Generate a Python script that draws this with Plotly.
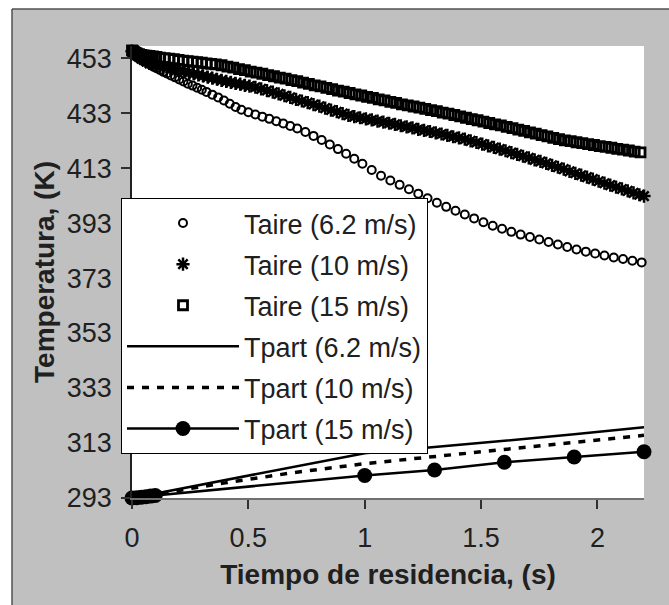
import plotly.graph_objects as go

# ---- Data ----
# Taire (6.2 m/s)  - open circles
t_aire_62 = [0.000, 0.004, 0.008, 0.012, 0.017, 0.022, 0.028, 0.035, 0.042, 0.050,
             0.060, 0.070, 0.080, 0.092, 0.105, 0.120, 0.135, 0.150, 0.167, 0.185,
             0.203, 0.221, 0.240, 0.260, 0.280, 0.300, 0.320, 0.345, 0.370, 0.395,
             0.420, 0.445, 0.470, 0.500, 0.530, 0.560, 0.590, 0.620, 0.650, 0.680,
             0.710, 0.745, 0.780, 0.815, 0.850, 0.885, 0.920, 0.955, 0.990, 1.030,
             1.070, 1.110, 1.150, 1.190, 1.230, 1.270, 1.310, 1.350, 1.390, 1.430,
             1.470, 1.510, 1.550, 1.590, 1.630, 1.670, 1.710, 1.750, 1.790, 1.830,
             1.870, 1.910, 1.950, 1.990, 2.030, 2.070, 2.110, 2.150, 2.190]
T_aire_62 = [455.5, 455.2, 454.9, 454.6, 454.3, 454.0, 453.6, 453.2, 452.8, 452.4,
             451.8, 451.2, 450.6, 449.9, 449.3, 448.7, 448.0, 447.4, 446.7, 446.0,
             445.2, 444.5, 443.7, 443.0, 442.2, 441.5, 440.7, 439.7, 438.7, 437.6,
             436.4, 435.2, 434.2, 433.3, 432.5, 431.7, 430.9, 430.0, 429.2, 428.3,
             427.4, 426.1, 424.7, 423.2, 421.6, 419.9, 418.2, 416.4, 414.6, 412.3,
             410.2, 408.5, 406.9, 405.3, 403.7, 402.0, 400.4, 398.9, 397.5, 396.1,
             394.7, 393.3, 392.0, 390.9, 389.8, 388.8, 387.9, 387.0, 386.1, 385.2,
             384.3, 383.4, 382.6, 381.9, 381.2, 380.5, 379.9, 379.3, 378.7]

# Taire (10 m/s) - asterisks
t_aire_10 = [0.000, 0.005, 0.010, 0.016, 0.022, 0.030, 0.040, 0.050, 0.062, 0.075,
             0.090, 0.105, 0.120, 0.135, 0.150, 0.165, 0.185, 0.205, 0.225, 0.245,
             0.265, 0.285, 0.305, 0.325, 0.345, 0.365, 0.385, 0.405, 0.425, 0.445,
             0.465, 0.485, 0.505, 0.530, 0.555, 0.580, 0.605, 0.630, 0.655, 0.680,
             0.705, 0.730, 0.755, 0.780, 0.805, 0.830, 0.855, 0.880, 0.905, 0.930,
             0.955, 0.980, 1.005, 1.030, 1.055, 1.080, 1.105, 1.130, 1.155, 1.180,
             1.205, 1.230, 1.255, 1.280, 1.305, 1.330, 1.355, 1.380, 1.405, 1.430,
             1.455, 1.480, 1.505, 1.530, 1.555, 1.580, 1.605, 1.630, 1.655, 1.680,
             1.705, 1.730, 1.755, 1.780, 1.805, 1.830, 1.855, 1.880, 1.905, 1.930,
             1.955, 1.980, 2.005, 2.030, 2.055, 2.080, 2.105, 2.130, 2.155, 2.180,
             2.200]
T_aire_10 = [455.5, 455.1, 454.7, 454.3, 453.9, 453.4, 452.8, 452.3, 451.7, 451.1,
             450.6, 450.2, 449.9, 449.6, 449.4, 449.2, 448.8, 448.5, 448.1, 447.7,
             447.3, 446.9, 446.5, 446.1, 445.7, 445.3, 444.9, 444.5, 444.2, 443.8,
             443.5, 443.1, 442.8, 442.4, 441.8, 441.2, 440.6, 440.0, 439.3, 438.7,
             438.0, 437.4, 436.8, 436.1, 435.5, 434.8, 434.1, 433.5, 432.8, 432.2,
             431.7, 431.3, 430.9, 430.5, 430.1, 429.7, 429.3, 428.9, 428.4, 428.0,
             427.6, 427.1, 426.7, 426.3, 425.8, 425.4, 424.9, 424.4, 424.0, 423.5,
             422.9, 422.3, 421.7, 421.1, 420.5, 419.9, 419.3, 418.6, 418.0, 417.3,
             416.7, 416.0, 415.4, 414.7, 414.0, 413.3, 412.6, 411.8, 411.1, 410.4,
             409.7, 409.0, 408.2, 407.5, 406.8, 406.1, 405.4, 404.7, 404.0, 403.3,
             402.8]

# Taire (15 m/s) - open squares
t_aire_15 = [0.000, 0.005, 0.010, 0.016, 0.022, 0.030, 0.040, 0.050, 0.062, 0.075,
             0.090, 0.105, 0.120, 0.140, 0.160, 0.180, 0.200, 0.220, 0.240, 0.260,
             0.280, 0.300, 0.320, 0.340, 0.360, 0.385, 0.410, 0.435, 0.460, 0.485,
             0.510, 0.535, 0.560, 0.585, 0.610, 0.635, 0.660, 0.685, 0.710, 0.735,
             0.760, 0.785, 0.810, 0.835, 0.860, 0.885, 0.910, 0.935, 0.960, 0.985,
             1.010, 1.035, 1.060, 1.085, 1.110, 1.135, 1.160, 1.185, 1.210, 1.235,
             1.260, 1.285, 1.310, 1.335, 1.360, 1.385, 1.410, 1.435, 1.460, 1.485,
             1.510, 1.535, 1.560, 1.585, 1.610, 1.635, 1.660, 1.685, 1.710, 1.735,
             1.760, 1.785, 1.810, 1.835, 1.860, 1.885, 1.910, 1.935, 1.960, 1.985,
             2.010, 2.035, 2.060, 2.085, 2.110, 2.135, 2.160, 2.185]
T_aire_15 = [455.8, 455.5, 455.2, 454.9, 454.6, 454.4, 454.2, 454.0, 453.9, 453.8,
             453.6, 453.4, 453.2, 453.0, 452.8, 452.6, 452.3, 452.1, 451.9, 451.7,
             451.5, 451.3, 451.1, 450.9, 450.7, 450.4, 449.9, 449.5, 449.0, 448.6,
             448.1, 447.7, 447.3, 446.8, 446.4, 445.9, 445.5, 445.0, 444.6, 444.1,
             443.6, 443.1, 442.7, 442.2, 441.7, 441.2, 440.8, 440.3, 439.8, 439.4,
             438.9, 438.5, 438.0, 437.6, 437.1, 436.7, 436.2, 435.8, 435.4, 435.0,
             434.5, 434.1, 433.7, 433.2, 432.8, 432.3, 431.8, 431.3, 430.8, 430.4,
             429.9, 429.4, 428.9, 428.5, 428.0, 427.5, 427.0, 426.5, 426.0, 425.5,
             425.0, 424.5, 424.0, 423.5, 423.1, 422.8, 422.4, 422.1, 421.7, 421.4,
             421.0, 420.7, 420.4, 420.0, 419.7, 419.4, 419.0, 418.7]

# Tpart curves
t_part_62 = [0.0, 0.02, 0.04, 0.06, 0.08, 1.0, 1.3, 1.6, 1.9, 2.2]
T_part_62 = [293.0, 293.3, 293.6, 294.0, 294.3, 309.3, 311.5, 313.8, 316.2, 318.7]

t_part_10 = [0.0, 0.02, 0.04, 0.06, 0.08, 0.4, 0.7, 1.0, 1.3, 1.6, 1.9, 2.2]
T_part_10 = [293.0, 293.2, 293.5, 293.8, 294.1, 298.5, 302.3, 305.5, 308.0, 310.5, 313.3, 315.8]

t_part_15 = [0.0, 0.02, 0.04, 0.06, 0.08, 0.1, 1.0, 1.3, 1.6, 1.9, 2.2]
T_part_15 = [293.0, 293.1, 293.3, 293.5, 293.7, 293.9, 301.2, 303.2, 306.0, 307.9, 309.8]

x_ticks = [0, 0.5, 1, 1.5, 2]
x_tick_labels = ["0", "0.5", "1", "1.5", "2"]
y_ticks = [293, 313, 333, 353, 373, 393, 413, 433, 453]
y_tick_labels = [str(v) for v in y_ticks]

FONT = "Liberation Sans, Arial, sans-serif"
TXT = "#202020"

fig = go.Figure()
fig.add_trace(go.Scatter(
    x=t_aire_62, y=T_aire_62, mode="markers", name="Taire (6.2 m/s)", legendgroup="a",
    marker=dict(symbol="circle-open", size=8, color="black", line=dict(width=2, color="black")),
    cliponaxis=False))
fig.add_trace(go.Scatter(
    x=t_aire_10, y=T_aire_10, mode="markers", name="Taire (10 m/s)", legendgroup="b",
    marker=dict(symbol="asterisk-open", size=11, color="black", line=dict(width=2.5, color="black")),
    cliponaxis=False))
fig.add_trace(go.Scatter(
    x=t_aire_15, y=T_aire_15, mode="markers", name="Taire (15 m/s)", legendgroup="c",
    marker=dict(symbol="square-open", size=9, color="black", line=dict(width=2.8, color="black")),
    cliponaxis=False))
fig.add_trace(go.Scatter(
    x=t_part_62, y=T_part_62, mode="lines", name="Tpart (6.2 m/s)", legendgroup="d",
    line=dict(color="black", width=2.5), cliponaxis=False))
fig.add_trace(go.Scatter(
    x=t_part_10, y=T_part_10, mode="lines", name="Tpart (10 m/s)", legendgroup="e",
    line=dict(color="black", width=3.5, dash="7px,8px"), cliponaxis=False))
fig.add_trace(go.Scatter(
    x=t_part_15, y=T_part_15, mode="lines+markers", name="Tpart (15 m/s)", legendgroup="f",
    line=dict(color="black", width=2.5),
    marker=dict(symbol="circle", size=15, color="black"), cliponaxis=False))

L, R, T, B = 132, 644, 46, 498
W, H = 669, 605
pw, ph = R - L, B - T

def px(xp):
    return (xp - L) / pw

def py(yp):
    return (B - yp) / ph

fig.update_layout(
    width=W, height=H,
    margin=dict(l=L, r=W - R, t=T, b=H - B, pad=0),
    paper_bgcolor="#c0c0c0",
    plot_bgcolor="white",
    font=dict(family=FONT, size=27, color=TXT),
    showlegend=True,
    legend=dict(
        x=px(121), y=py(198), xanchor="left", yanchor="top",
        bgcolor="white", bordercolor="black", borderwidth=1,
        font=dict(family=FONT, size=27, color=TXT),
        itemwidth=112, tracegroupgap=3,
    ),
    xaxis=dict(
        range=[0, 2.2], tickmode="array", tickvals=x_ticks, ticktext=x_tick_labels,
        showgrid=False, zeroline=False, showline=True, linecolor="#707070", linewidth=1.5,
        ticks="outside", ticklen=9, tickwidth=1.5, tickcolor="#303030",
        ticklabelstandoff=6,
        tickfont=dict(family=FONT, size=27, color=TXT),
        title=dict(text="<b>Tiempo de residencia, (s)</b>",
                   font=dict(family=FONT, size=28, color=TXT), standoff=12),
    ),
    yaxis=dict(
        range=[293, 457.4], tickmode="array", tickvals=y_ticks, ticktext=y_tick_labels,
        showgrid=False, zeroline=False, showline=True, linecolor="#202020", linewidth=1.5,
        ticks="outside", ticklen=9, tickwidth=1.5, tickcolor="#303030",
        ticklabelstandoff=4,
        tickfont=dict(family=FONT, size=27, color=TXT),
        title=dict(text="<b>Temperatura, (K)</b>",
                   font=dict(family=FONT, size=28, color=TXT), standoff=4),
    ),
    shapes=[
        dict(type="rect", xref="paper", yref="paper", x0=-1, x1=px(12), y0=-1, y1=3,
             fillcolor="white", line=dict(width=0), layer="above"),
        dict(type="rect", xref="paper", yref="paper", x0=-1, x1=3, y0=py(9), y1=3,
             fillcolor="white", line=dict(width=0), layer="above"),
        dict(type="line", xref="paper", yref="paper", x0=px(12), x1=px(12), y0=-1, y1=py(9),
             line=dict(color="#505050", width=1.5), layer="above"),
        dict(type="line", xref="paper", yref="paper", x0=px(12), x1=3, y0=py(9), y1=py(9),
             line=dict(color="#505050", width=1.5), layer="above"),
    ],
)

fig.write_html("out.html", config={"displayModeBar": False},
               post_script="document.body.style.margin='0px';document.body.style.overflow='hidden';")
